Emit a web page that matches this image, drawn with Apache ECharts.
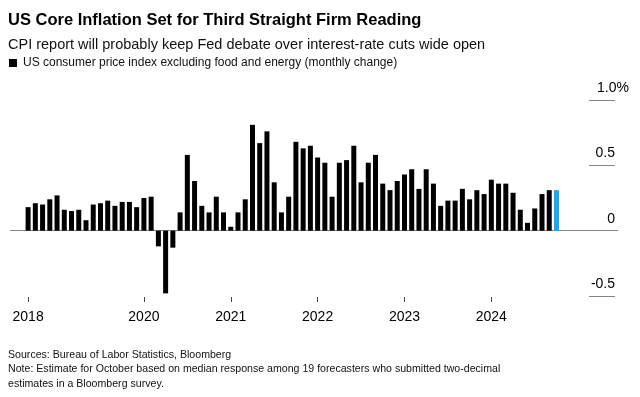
<!DOCTYPE html>
<html>
<head>
<meta charset="utf-8">
<script src="https://cdn.jsdelivr.net/npm/echarts@6/dist/echarts.min.js"></script>
<style>
  html, body { margin: 0; padding: 0; background: #fff; }
  #chart { width: 640px; height: 397px; }
</style>
</head>
<body>
<div id="chart"></div>
<script>
// monthly change in US core CPI, Sep 2018 .. Oct 2024 (last one is the survey estimate)
var months = [
  '2018-09', '2018-10', '2018-11', '2018-12',
  '2019-01', '2019-02', '2019-03', '2019-04', '2019-05', '2019-06', '2019-07', '2019-08', '2019-09', '2019-10', '2019-11', '2019-12',
  '2020-01', '2020-02', '2020-03', '2020-04', '2020-05', '2020-06', '2020-07', '2020-08', '2020-09', '2020-10', '2020-11', '2020-12',
  '2021-01', '2021-02', '2021-03', '2021-04', '2021-05', '2021-06', '2021-07', '2021-08', '2021-09', '2021-10', '2021-11', '2021-12',
  '2022-01', '2022-02', '2022-03', '2022-04', '2022-05', '2022-06', '2022-07', '2022-08', '2022-09', '2022-10', '2022-11', '2022-12',
  '2023-01', '2023-02', '2023-03', '2023-04', '2023-05', '2023-06', '2023-07', '2023-08', '2023-09', '2023-10', '2023-11', '2023-12',
  '2024-01', '2024-02', '2024-03', '2024-04', '2024-05', '2024-06', '2024-07', '2024-08', '2024-09', '2024-10'
];
var coreCpi = [
  0.18, 0.21, 0.20, 0.24,
  0.27, 0.16, 0.15, 0.16, 0.08, 0.20, 0.21, 0.23, 0.19, 0.22, 0.22, 0.18,
  0.25, 0.26, -0.12, -0.48, -0.13, 0.14, 0.58, 0.38, 0.19, 0.14, 0.26, 0.14,
  0.03, 0.14, 0.24, 0.81, 0.67, 0.76, 0.37, 0.14, 0.26, 0.68, 0.63, 0.65,
  0.56, 0.52, 0.26, 0.52, 0.54, 0.65, 0.37, 0.52, 0.58, 0.36, 0.31, 0.38,
  0.43, 0.47, 0.32, 0.47, 0.36, 0.19, 0.23, 0.23, 0.32, 0.24, 0.31, 0.28,
  0.39, 0.36, 0.36, 0.29, 0.16, 0.06, 0.17, 0.28, 0.31, 0.31
];
var estimateMonth = '2024-10';
// x labels only where Bloomberg put them (no 2019)
var yearTicks = {
  '2018-09': '2018', '2020-01': '2020', '2021-01': '2021',
  '2022-01': '2022', '2023-01': '2023', '2024-01': '2024'
};
var yMin = -0.5, yMax = 1.0, yStep = 0.5;

var font = '"Liberation Sans", Arial, Helvetica, sans-serif';

// empty slots either side so the bars sit where they do in the original
var padLeft = ['_a', '_b'];
var padRight = ['_c', '_d', '_e', '_f', '_g', '_h', '_i', '_j'];
var categories = padLeft.concat(months, padRight);

var barData = months.map(function (m, i) {
  if (m === estimateMonth) {
    return { value: [m, coreCpi[i]], itemStyle: { color: '#1ba6f0' } };
  }
  return [m, coreCpi[i]];
});

var chart = echarts.init(document.getElementById('chart'), null, { renderer: 'canvas' });

chart.setOption({
  backgroundColor: '#fff',
  animation: false,
  textStyle: { fontFamily: font },
  title: [
    { text: 'US Core Inflation Set for Third Straight Firm Reading', left: 8, top: 12, padding: 0,
      textStyle: { fontFamily: font, fontWeight: 'bold', fontSize: 16.5, color: '#000' } },
    { text: 'CPI report will probably keep Fed debate over interest-rate cuts wide open', left: 8, top: 37, padding: 0,
      textStyle: { fontFamily: font, fontWeight: 'normal', fontSize: 14.5, color: '#111' } },
    { text: 'Sources: Bureau of Labor Statistics, Bloomberg\nNote: Estimate for October based on median response among 19 forecasters who submitted two-decimal\nestimates in a Bloomberg survey.',
      left: 8, top: 347.5, padding: 0,
      textStyle: { fontFamily: font, fontWeight: 'normal', fontSize: 10.6, lineHeight: 14.5, color: '#111' } }
  ],
  legend: {
    left: 4, top: 52,
    icon: 'rect', itemWidth: 8, itemHeight: 8, itemGap: 6,
    textStyle: { fontFamily: font, fontSize: 12, color: '#111', padding: [0, 0, 0, 1] },
    data: ['US consumer price index excluding food and energy (monthly change)']
  },
  grid: [
    { left: 10, width: 608, top: 100, height: 196 },
    { left: 589, width: 26, top: 100, height: 196 }
  ],
  xAxis: [
    {
      type: 'category', gridIndex: 0, data: categories, boundaryGap: true,
      position: 'bottom', offset: 1,
      axisLine: { show: false, onZero: false },
      axisTick: {
        show: true, alignWithLabel: true, length: 5,
        interval: function (i, v) { return yearTicks[v] !== undefined; },
        lineStyle: { color: '#444', width: 1 }
      },
      axisLabel: {
        margin: 13, fontSize: 14, color: '#000', fontFamily: font,
        interval: function (i, v) { return yearTicks[v] !== undefined; },
        formatter: function (v) { return yearTicks[v] || ''; }
      },
      splitLine: { show: false }
    },
    { type: 'value', gridIndex: 1, min: 0, max: 1, show: false }
  ],
  yAxis: [
    {
      type: 'value', gridIndex: 0, min: yMin, max: yMax, interval: yStep,
      axisLine: { show: false }, axisTick: { show: false }, axisLabel: { show: false },
      // only the zero line runs across the plot
      splitLine: { show: true, lineStyle: { color: ['rgba(0,0,0,0)', '#858585', 'rgba(0,0,0,0)', 'rgba(0,0,0,0)'], width: 1 } }
    },
    {
      type: 'value', gridIndex: 1, min: yMin, max: yMax, interval: yStep, position: 'left',
      axisLine: { show: false }, axisTick: { show: false },
      splitLine: { show: true, lineStyle: { color: '#858585', width: 1 } },
      axisLabel: {
        inside: true, margin: 0, align: 'left', verticalAlign: 'bottom',
        padding: [0, 0, 5, 0],
        fontSize: 14, color: '#000', fontFamily: font,
        formatter: function (v) {
          if (v === yMax) return '{m|' + v.toFixed(1) + '%}';
          return '{n|' + (v === 0 ? '0' : v.toFixed(1)) + '}';
        },
        rich: {
          n: { width: 26, align: 'right', fontSize: 14, color: '#000', fontFamily: font },
          m: { padding: [0, 0, 0, 8], fontSize: 14, color: '#000', fontFamily: font }
        }
      }
    }
  ],
  series: [
    {
      name: 'US consumer price index excluding food and energy (monthly change)',
      type: 'bar', xAxisIndex: 0, yAxisIndex: 0,
      barWidth: 5,
      itemStyle: { color: '#000' },
      data: barData
    }
  ]
});
</script>
</body>
</html>
